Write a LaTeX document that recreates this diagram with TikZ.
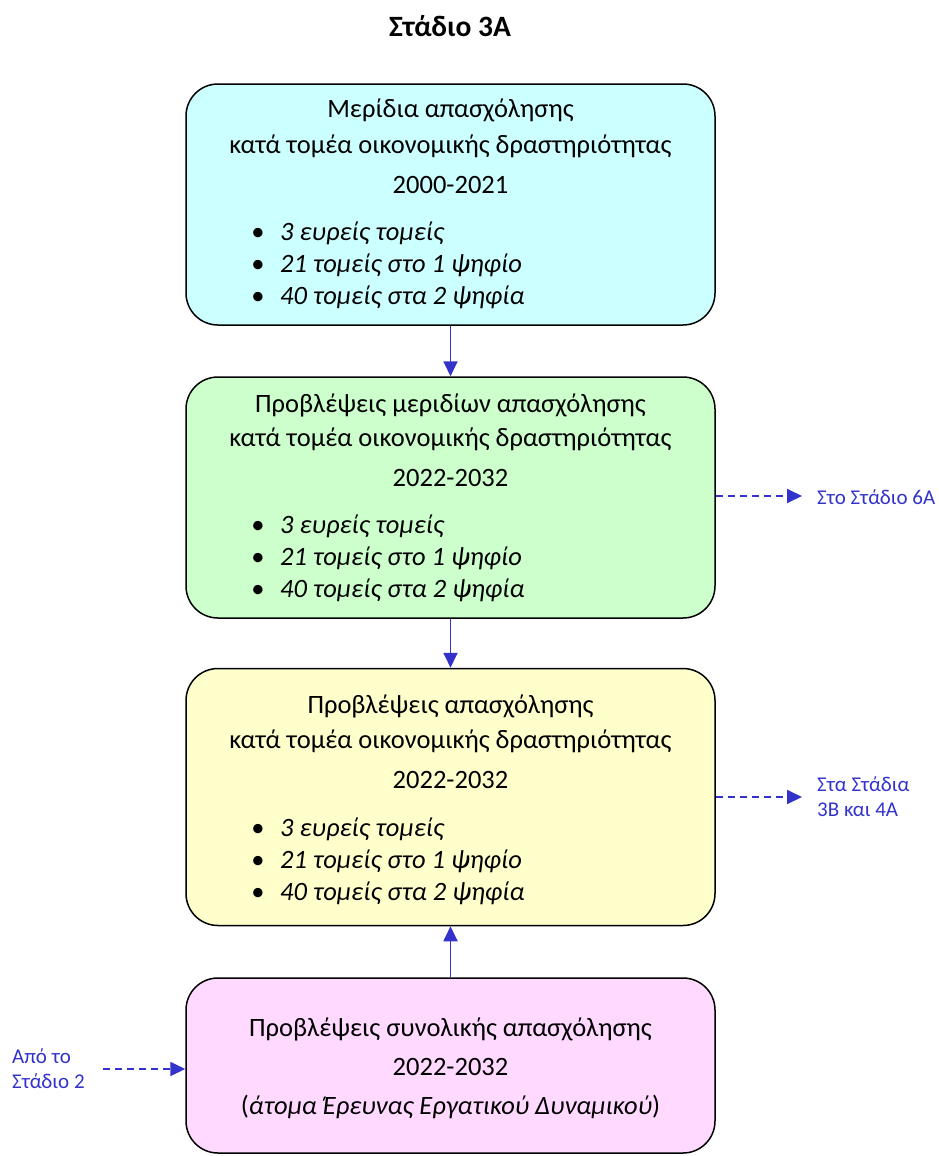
\documentclass[tikz,border=0pt]{standalone}
\usepackage{fontspec}
\setmainfont{Carlito}
\usetikzlibrary{arrows.meta}
\definecolor{flowblue}{RGB}{51,51,204}
\definecolor{boxcyan}{RGB}{204,255,255}
\definecolor{boxgreen}{RGB}{204,255,204}
\definecolor{boxyellow}{RGB}{255,255,204}
\definecolor{boxpink}{RGB}{255,217,255}
\begin{document}
\begin{tikzpicture}[x=1pt,y=-1pt,
  box/.style={draw=black, line width=1.5pt, rounded corners=32pt, minimum width=529pt, inner sep=0pt},
  txt/.style={font=\fontsize{26.5}{30}\selectfont, inner sep=0pt, text height=19pt, text depth=6pt},
  itm/.style={txt, font=\fontsize{26.5}{30}\selectfont\itshape, anchor=west},
  dotx/.style={txt},
  link/.style={draw=flowblue, line width=1.8pt, -{Triangle[length=15pt,width=14pt]}},
  side/.style={link, dash pattern=on 7pt off 5pt},
  lbl/.style={text=flowblue, font=\fontsize{21}{25}\selectfont, align=left, anchor=west, inner sep=0pt}]
\fill[white] (0,0) rectangle (938,1156);
\useasboundingbox (0,0) rectangle (938,1156);

\node[txt, font=\fontsize{29.5}{32}\selectfont\bfseries] (title) at (450,30) {Στάδιο 3Α};

% Box 1
\node[box, fill=boxcyan, minimum height=241pt] (b1) at (450.5,204.5) {};
\node[txt] (b1l1) at (450.5,111) {Μερίδια απασχόλησης};
\node[txt] (b1l2) at (450.5,147) {κατά τομέα οικονομικής δραστηριότητας};
\node[txt] (b1l3) at (450.5,187) {2000-2021};
\node[dotx] (b1d1) at (258,234) {•};
\node[itm] (b1i1) at (280,234) {3 ευρείς τομείς};
\node[dotx] (b1d2) at (258,266) {•};
\node[itm] (b1i2) at (280,266) {21 τομείς στο 1 ψηφίο};
\node[dotx] (b1d3) at (258,298) {•};
\node[itm] (b1i3) at (280,298) {40 τομείς στα 2 ψηφία};

% Box 2
\node[box, fill=boxgreen, minimum height=241pt] (b2) at (450.5,497.5) {};
\node[txt] (b2l1) at (450.5,406) {Προβλέψεις μεριδίων απασχόλησης};
\node[txt] (b2l2) at (450.5,440) {κατά τομέα οικονομικής δραστηριότητας};
\node[txt] (b2l3) at (450.5,480) {2022-2032};
\node[dotx] (b2d1) at (258,527) {•};
\node[itm] (b2i1) at (280,527) {3 ευρείς τομείς};
\node[dotx] (b2d2) at (258,559) {•};
\node[itm] (b2i2) at (280,559) {21 τομείς στο 1 ψηφίο};
\node[dotx] (b2d3) at (258,591) {•};
\node[itm] (b2i3) at (280,591) {40 τομείς στα 2 ψηφία};

% Box 3
\node[box, fill=boxyellow, minimum height=257pt] (b3) at (450.5,797) {};
\node[txt] (b3l1) at (450.5,707) {Προβλέψεις απασχόλησης};
\node[txt] (b3l2) at (450.5,742) {κατά τομέα οικονομικής δραστηριότητας};
\node[txt] (b3l3) at (450.5,782) {2022-2032};
\node[dotx] (b3d1) at (258,830) {•};
\node[itm] (b3i1) at (280,830) {3 ευρείς τομείς};
\node[dotx] (b3d2) at (258,862) {•};
\node[itm] (b3i2) at (280,862) {21 τομείς στο 1 ψηφίο};
\node[dotx] (b3d3) at (258,894) {•};
\node[itm] (b3i3) at (280,894) {40 τομείς στα 2 ψηφία};

% Box 4
\node[box, fill=boxpink, minimum height=175pt] (b4) at (450.5,1065.5) {};
\node[txt] (b4l1) at (450.5,1030) {Προβλέψεις συνολικής απασχόλησης};
\node[txt] (b4l2) at (450.5,1069) {2022-2032};
\node[txt] (b4l3) at (450.5,1108) {(\textit{άτομα Έρευνας Εργατικού Δυναμικού})};

% Connectors
\draw[link] (b1.south) -- (b2.north);
\draw[link] (b2.south) -- (b3.north);
\draw[link] (b4.north) -- (b3.south);

\coordinate (e2) at (802,496);
\coordinate (e3) at (802,797);
\coordinate (s4) at (103,1069);
\draw[side] (b2.east |- e2) -- (e2);
\draw[side] (b3.east |- e3) -- (e3);
\draw[side] (s4) -- (b4.west |- s4);

\node[lbl] (l2) at (817,497) {Στο Στάδιο 6Α};
\node[lbl] (l3) at (817,797) {Στα Στάδια\\3Β και 4Α};
\node[lbl] (l4) at (12,1069) {Από το\\Στάδιο 2};
\end{tikzpicture}
\end{document}
